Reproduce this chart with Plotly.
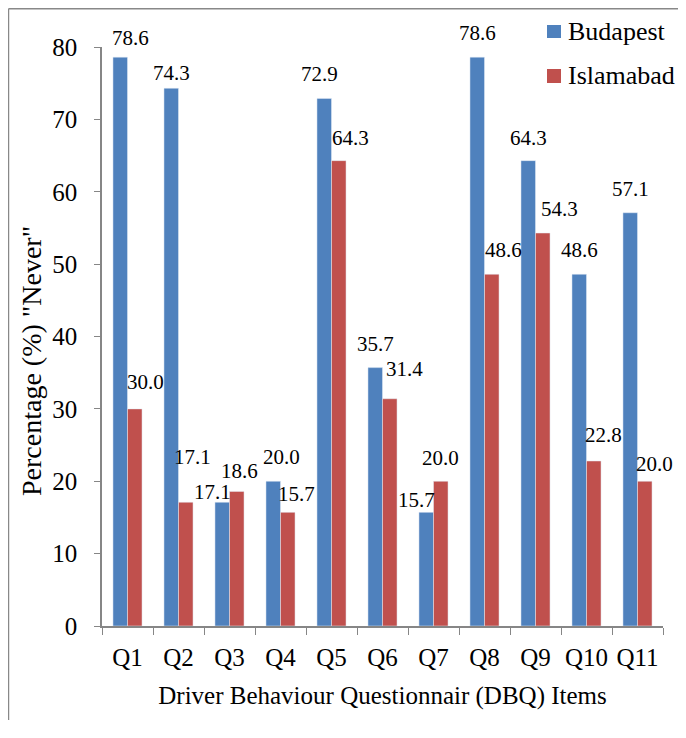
import plotly.graph_objects as go

# Data
items = ['Q1', 'Q2', 'Q3', 'Q4', 'Q5', 'Q6', 'Q7', 'Q8', 'Q9', 'Q10', 'Q11']
budapest = [78.6, 74.3, 17.1, 20.0, 72.9, 35.7, 15.7, 78.6, 64.3, 48.6, 57.1]
islamabad = [30.0, 17.1, 18.6, 15.7, 64.3, 31.4, 20.0, 48.6, 54.3, 22.8, 20.0]

BLUE = '#4F81BD'
RED = '#C0504D'
FONT = "'Liberation Serif', 'Times New Roman', serif"

# manual label nudges (px) as placed in the original chart: (xshift, yshift)
bud_shift = [(10, 19), (0, 15), (-10, 10), (8, 24), (-5, 24), (0, 24),
             (-10, 12), (0, 24), (0, 23), (0, 24), (0, 24)]
isl_shift = [(11, 27), (7, 45), (3, 20), (9, 18), (12, 23), (15, 30),
             (0, 23), (12, 24), (17, 24), (10, 26), (10, 17)]

fig = go.Figure()
fig.add_trace(go.Bar(x=items, y=budapest, name='Budapest', marker_color=BLUE))
fig.add_trace(go.Bar(x=items, y=islamabad, name='Islamabad', marker_color=RED))

# Data labels
bw = 0.285  # offset of each bar centre from the category centre
for i, q in enumerate(items):
    for vals, shifts, side in ((budapest, bud_shift, -1), (islamabad, isl_shift, 1)):
        dx, dy = shifts[i]
        fig.add_annotation(
            x=i + side * bw / 2, y=vals[i], text=f'{vals[i]:.1f}',
            showarrow=False, xshift=dx, yshift=dy,
            font=dict(family=FONT, size=21, color='black'),
            xanchor='center', yanchor='middle',
        )

# y-axis title as a free annotation (sits a bit below the axis centre)
fig.add_annotation(
    xref='paper', yref='paper', x=-0.1266, y=0.4288,
    text='Percentage (%) "Never"', textangle=-90, showarrow=False,
    font=dict(family=FONT, size=28, color='black'),
    xanchor='center', yanchor='middle',
)

# Legend drawn by hand so it does not push the right margin
legend_rows = [('Budapest', BLUE, 0.9725, 0.9515, 0.9612),
               ('Islamabad', RED, 0.9013, 0.8786, 0.8900)]
for name, col, y_top, y_bot, y_txt in legend_rows:
    fig.add_shape(type='rect', xref='paper', yref='paper',
                  x0=0.7932, x1=0.8182, y0=y_bot, y1=y_top,
                  fillcolor=col, line=dict(width=0))
    fig.add_annotation(xref='paper', yref='paper', x=0.8271, y=y_txt,
                       text=name, showarrow=False, xanchor='left', yanchor='middle',
                       font=dict(family=FONT, size=26, color='black'))

# the page body adds an 8px margin, so the figure is sized to fit inside it
fig.update_layout(
    width=670, height=712,
    margin=dict(l=94, r=15, t=0, b=94),
    plot_bgcolor='white', paper_bgcolor='white',
    barmode='group', bargap=0.43, bargroupgap=0,
    font=dict(family=FONT, color='black'),
    showlegend=False,
)

fig.update_xaxes(
    type='category', range=[-0.5, len(items) - 0.5],
    showline=True, linecolor='#868686', linewidth=1.5,
    ticks='outside', tickson='boundaries', ticklen=7, tickcolor='#868686',
    tickfont=dict(family=FONT, size=25), showgrid=False, tickangle=0,
    ticklabelstandoff=8, automargin=False,
    title=dict(text='Driver Behaviour Questionnair (DBQ) Items',
               font=dict(family=FONT, size=25), standoff=17),
)
fig.update_yaxes(
    range=[0, 80], dtick=10, showline=True, linecolor='#868686', linewidth=1.5,
    domain=[0, 579 / 618], automargin=False,
    ticks='outside', ticklen=6, tickcolor='#868686', showgrid=False,
    tickfont=dict(family=FONT, size=25), ticklabelstandoff=12, zeroline=False,
)

# outer frame (left and top edges visible in the original)
fig.add_shape(type='line', xref='paper', yref='paper', x0=-0.1667, x1=-0.1667,
              y0=-0.3, y1=0.9988, line=dict(color='#888888', width=1.5))
fig.add_shape(type='line', xref='paper', yref='paper', x0=-0.1667, x1=1.1,
              y0=0.9988, y1=0.9988, line=dict(color='#888888', width=1.5))

fig.write_html('out.html')
